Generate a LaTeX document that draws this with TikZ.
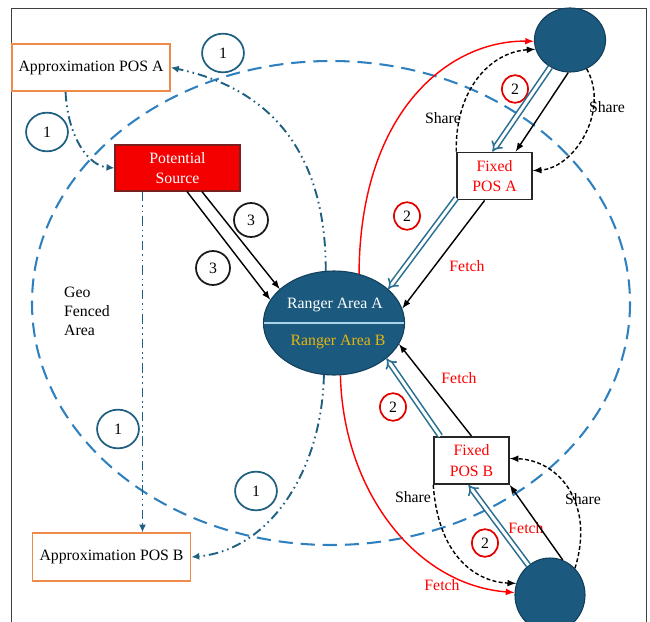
\documentclass[tikz,border=0pt]{standalone}
\usepackage{fontspec}
\setmainfont{Liberation Serif}
\usetikzlibrary{arrows.meta, shapes.geometric}

\definecolor{ranger}{HTML}{1B5A7E}
\definecolor{rangerline}{HTML}{12405C}
\definecolor{divider}{HTML}{A8D5EA}
\definecolor{areagold}{HTML}{E8B50C}
\definecolor{fenceblue}{HTML}{2F80BE}
\definecolor{probeteal}{HTML}{1F5F80}
\definecolor{relayblue}{HTML}{2A6E91}
\definecolor{boxorange}{HTML}{EE8A4A}
\definecolor{sourcered}{HTML}{F50000}
\definecolor{sourceline}{HTML}{7A1E1E}

\tikzset{
  approx box/.style={
    draw=boxorange,
    line width=1.1pt,
    fill=white,
    minimum width=100pt,
    minimum height=30pt,
  },
  source box/.style={
    draw=sourceline,
    line width=0.9pt,
    fill=sourcered,
    text=white,
    align=center,
    font=\fontsize{10}{12.7}\selectfont,
    minimum width=79pt,
    minimum height=29pt,
  },
  pos box/.style={
    draw=black!85,
    line width=0.9pt,
    fill=white,
    text=red,
    align=center,
    font=\fontsize{10}{13}\selectfont,
    minimum width=47.5pt,
    minimum height=30pt,
    inner sep=1pt,
  },
  device/.style={
    ellipse,
    draw=rangerline,
    fill=ranger,
    line width=0.7pt,
    inner sep=0pt,
  },
  tag one/.style={ellipse, draw=probeteal, line width=1.1pt, minimum width=26.5pt, minimum height=24.5pt, inner sep=0pt},
  tag three/.style={circle, draw=black!90, line width=1.1pt, minimum size=21.5pt, inner sep=0pt},
  tag two/.style={ellipse, draw=red!90!black, line width=1.1pt, minimum width=16.5pt, minimum height=17.5pt, inner sep=0pt},
  fetch/.style={text=red},
  fence/.style={draw=fenceblue, line width=1.3pt, dash pattern=on 9pt off 5pt},
  probe/.style={
    draw=probeteal,
    line width=1.2pt,
    dash pattern=on 6pt off 2.5pt on 1pt off 2.5pt on 1pt off 2.5pt,
    -{Latex[length=5pt, width=4.5pt]},
  },
  relay/.style={
    draw=relayblue,
    double=white,
    double distance=1.9pt,
    line width=1pt,
    -{Implies},
  },
  share/.style={draw=black, line width=0.9pt, dash pattern=on 2.5pt off 1.5pt, -latex},
  reach/.style={draw=red, line width=0.9pt, -latex},
  link/.style={black, line width=0.9pt, -latex},
}

\begin{document}
\begin{tikzpicture}[x=0.633pt, y=-0.633pt]
        \useasboundingbox (0,0) rectangle (650,622);
        \coordinate (frame sw) at ( 11,622);
        \coordinate (frame nw) at ( 11,  8);
        \coordinate (frame ne) at (646,  8);
        \coordinate (frame se) at (646,622);
        \draw[black!75, line width=0.6pt] (frame sw) -- (frame nw) -- (frame ne) -- (frame se);

        % geo fence
        \draw[fence] (331,303) ellipse [x radius=299, y radius=242];

        \node[approx box] (apA) at ( 91  , 67.5) {Approximation POS A};
        \node[approx box] (apB) at (111.5,557  ) {Approximation POS B};
        \node[source box] (src) at (177.5,168  ) {Potential\\Source};
        \node[pos box]    (fxA) at (494.5,176  ) {Fixed\\POS A};
        \node[pos box]    (fxB) at (471.5,460.5) {Fixed\\POS B};

        \node[device, minimum width=45pt,   minimum height=40.5pt] (cA) at (570, 40) {};
        \node[device, minimum width=44.3pt, minimum height=46.8pt] (cB) at (550,595) {};
        \node[device, minimum width=89.3pt, minimum height=65.8pt] (rg) at (334,323) {};
        \draw[divider, line width=1.3pt, shorten <=0.6pt, shorten >=0.6pt] (rg.west) -- (rg.east);
        \node[text=white]    (rgA) at (335,305) {Ranger Area A};
        \node[text=areagold] (rgB) at (338,342) {Ranger Area B};

        \node[align=left] (geo) at (87,311) {Geo\\Fenced\\Area};

        \node[tag one]   (t1a) at (223, 53) {1};
        \node[tag one]   (t1b) at ( 47,132) {1};
        \node[tag one]   (t1c) at (118,429) {1};
        \node[tag one]   (t1d) at (256,491) {1};
        \node[tag three] (t3a) at (251,220) {3};
        \node[tag three] (t3b) at (213,268) {3};
        \node[tag two]   (t2a) at (515, 89) {2};
        \node[tag two]   (t2b) at (407,216) {2};
        \node[tag two]   (t2c) at (393,407) {2};
        \node[tag two]   (t2d) at (485,543) {2};

        \node[fetch] (f1) at (467,266) {Fetch};
        \node[fetch] (f2) at (459,378) {Fetch};
        \node[fetch] (f3) at (526,528) {Fetch};
        \node[fetch] (f4) at (442,585) {Fetch};
        \node (s1) at (443,118) {Share};
        \node (s2) at (607,107) {Share};
        \node (s3) at (413,497) {Share};
        \node (s4) at (583,499) {Share};

        % 1
        \draw[probe] (apA.-136) .. controls (68,140) and (90,166) .. (src.west);
        \draw[probe] (src.-146) -- (src.-146 |- apB.north);
        \draw[probe] (rg.99) .. controls (326,190) and (300,95) .. (apA.east);
        \draw[probe] (rg.-101) .. controls (322,470) and (270,550) .. (apB.east);

        % 3
        \path[link] (src.-68) edge (rg.160);
        \path[link] (src.-44) edge (rg.148);

        % 2
        \draw[relay] (cA.-126)  -- (fxA.95);
        \draw[relay] (fxA.-150) -- (rg.32);
        \draw[relay] (cB.126)   -- (fxB.-97);
        \draw[relay] (fxB.142)  -- (rg.-34);

        \path[link] (cA.-93)    edge (fxA.49);
        \path[link] (fxA.-112)  edge (rg.12);
        \path[link] (cB.70)     edge (fxB.south east);
        \path[link] (fxB.north) edge (rg.-18);

        \draw[share] (fxA.north west) .. controls (455,90) and (490,52) .. (cA.195);
        \draw[share] (cA.-60) .. controls (610,110) and (575,168) .. (fxA.8);
        \draw[share] (fxB.south west) .. controls (438,555) and (475,582) .. (cB.161);
        \draw[share] (cB.47) .. controls (595,505) and (560,460) .. (fxB.3);

        \draw[reach] (rg.63)  .. controls (360,110) and (450,40)  .. (cA.182);
        \draw[reach] (rg.-83) .. controls (343,490) and (415,585) .. (cB.176);
      \end{tikzpicture}
\end{document}
